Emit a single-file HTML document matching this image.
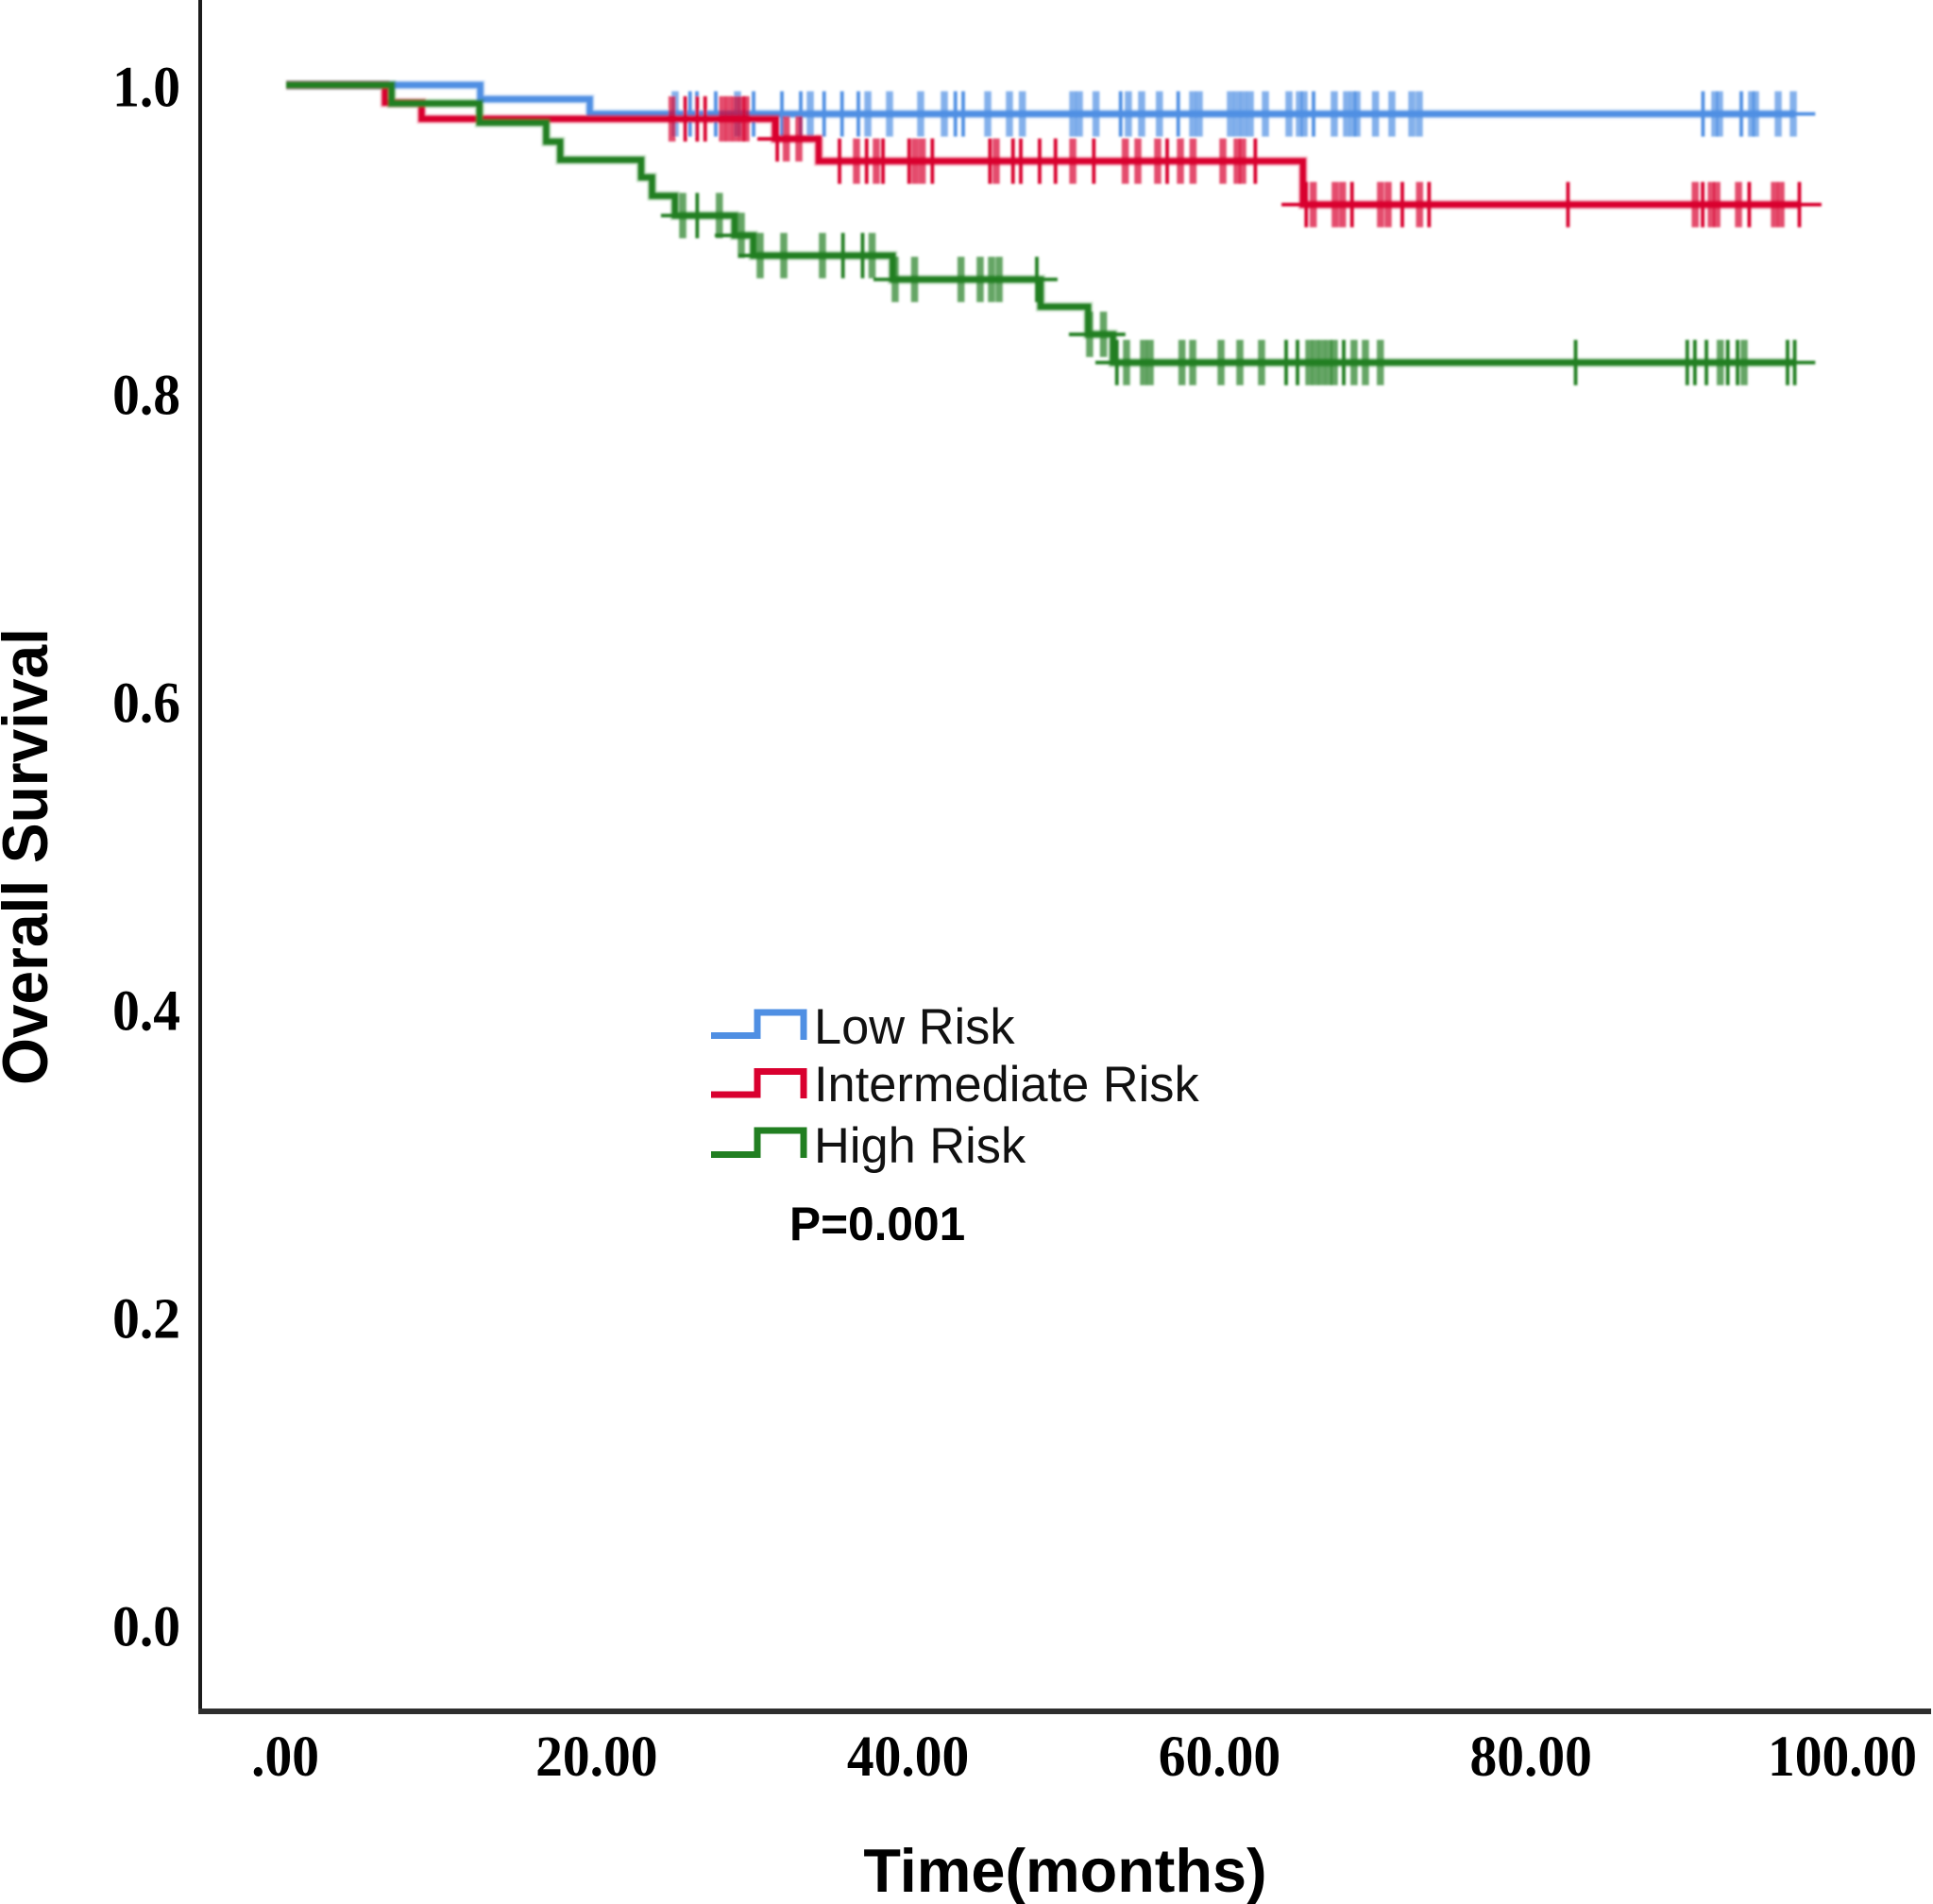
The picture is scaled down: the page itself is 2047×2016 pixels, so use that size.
<!DOCTYPE html>
<html lang="en">
<head>
<meta charset="utf-8">
<title>Overall Survival by Risk Group</title>
<style>
html,body{margin:0;padding:0;background:#fff;}
svg{display:block;}
.num{font-family:"Liberation Serif",serif;font-weight:bold;font-size:57.5px;fill:#000;}
.title{font-family:"Liberation Sans",sans-serif;font-weight:bold;fill:#000;}
.leg{font-family:"Liberation Sans",sans-serif;font-size:52.4px;fill:#111;}
</style>
</head>
<body>
<svg id="chart" xmlns="http://www.w3.org/2000/svg" width="2047" height="2016" viewBox="0 0 2047 2016">
  <defs><filter id="soft" x="-2%" y="-2%" width="104%" height="104%"><feGaussianBlur stdDeviation="1"/></filter></defs>
  <rect width="2047" height="2016" fill="#fff"/>
  <rect x="210" y="0" width="4" height="1814" fill="#1c1c1c"/>
  <rect x="210" y="1809" width="1835" height="6" fill="#2e2e2e"/>
  <g id="marks" filter="url(#soft)"></g>
  <g id="ticks"></g>
  <text class="title" font-size="64" text-anchor="middle" transform="translate(50 907) rotate(-90) scale(1 1.06)">Overall Survival</text>
  <text class="title" font-size="64.8" text-anchor="middle" x="1128" y="2003">Time(months)</text>
  <g>
    <g>
      <path d="M753 1096.5H802V1072H851V1101" fill="none" stroke="#4f8fe3" stroke-width="7"/>
      <text class="leg" x="862" y="1105">Low Risk</text>
    </g>
    <g>
      <path d="M753 1159H802V1134.5H851V1163" fill="none" stroke="#d9002f" stroke-width="7"/>
      <text class="leg" x="862" y="1166">Intermediate Risk</text>
    </g>
    <g>
      <path d="M753 1222.5H802V1197H851V1226" fill="none" stroke="#217f21" stroke-width="7"/>
      <text class="leg" x="862" y="1231">High Risk</text>
    </g>
  </g>
  <text class="title" font-size="49.6" x="836" y="1313">P=0.001</text>
</svg>
<script>
// Axis tick values and labels
const xTickValues = [0, 20, 40, 60, 80, 100];
const xTickLabels = [".00", "20.00", "40.00", "60.00", "80.00", "100.00"];
const yTickValues = [1, 0.8, 0.6, 0.4, 0.2, 0];
const yTickLabels = ["1.0", "0.8", "0.6", "0.4", "0.2", "0.0"];

// Low risk
const lowStepTimes = [0, 12.47, 19.5];
const lowStepSurvival = [1, 0.9908, 0.9812];
const lowCurveEnd = 96.9;
const lowCensorSingle = [25.94, 26.38, 27.59, 30.02, 31.84, 33.05, 34.55, 35.70, 36.75, 42.98, 43.48, 53.59, 57.29, 65.98, 90.99, 93.45];
const lowCensorCluster = [24.98, 28.99, 33.66, 37.36, 38.75, 40.75, 42.27, 45.06, 46.45, 47.28, 50.52, 50.94, 52.01, 54.09, 54.94, 56.08, 58.22, 58.64, 60.64, 61.07, 61.49, 61.92, 62.89, 64.40, 65.07, 65.37, 67.31, 68.10, 68.53, 68.77, 69.96, 71.01, 72.29, 72.77, 91.75, 92.05, 94.11, 94.36, 95.82, 96.79];
const lowStubStart = [96.9];
const lowStubEnd = [98.2];
const lowStubSurvival = [0.9812];

// Intermediate risk
const midStepTimes = [0, 6.35, 8.7, 31.4, 34.2, 65.3];
const midStepSurvival = [1, 0.9885, 0.978, 0.965, 0.9505, 0.9223];
const midCurveEnd = 97.3;
const midCensorSingle = [25.63, 26.40, 26.91, 31.54, 35.54, 37.28, 38.33, 40.01, 41.50, 45.20, 46.68, 47.18, 48.39, 49.41, 51.87, 56.58, 62.24, 65.51, 68.45, 71.68, 73.40, 82.32, 90.97, 93.96, 97.18];
const midCensorCluster = [24.78, 28.02, 28.44, 28.87, 29.29, 29.53, 32.12, 32.93, 36.63, 37.90, 40.39, 40.85, 45.60, 50.52, 53.89, 54.70, 55.97, 57.43, 58.24, 60.16, 61.07, 61.43, 65.96, 67.37, 67.84, 70.28, 70.77, 72.79, 90.49, 91.52, 91.88, 93.27, 95.58, 96.0];
const midStubStart = [30.26, 63.92, 97.3];
const midStubEnd = [31.4, 65.3, 98.6];
const midStubSurvival = [0.965, 0.9223, 0.9223];

// High risk
const highStepTimes = [0, 6.77, 12.42, 16.7, 17.6, 22.8, 23.5, 24.97, 28.8, 30.0, 38.95, 48.45, 51.5, 53.1];
const highStepSurvival = [1, 0.988, 0.9755, 0.9632, 0.9514, 0.94, 0.928, 0.9152, 0.9023, 0.8892, 0.8737, 0.856, 0.838, 0.8197];
const highCurveEnd = 97;
const highCensorSingle = [26.40, 35.76, 37.02, 48.21, 53.35, 64.22, 64.95, 67.92, 82.81, 89.98, 90.47, 91.21, 92.58, 93.21, 96.42, 96.88];
const highCensorCluster = [25.47, 27.82, 29.23, 30.44, 31.96, 34.44, 37.63, 39.11, 40.36, 43.34, 44.57, 45.30, 45.79, 51.60, 52.49, 53.97, 55.06, 55.49, 57.53, 58.22, 60.04, 61.25, 62.64, 65.68, 66.10, 66.52, 66.95, 67.31, 68.58, 69.31, 70.27, 92.10, 93.63];
const highStubStart = [24.07, 27.53, 29.05, 37.72, 48.33, 50.27, 53.1, 51.97, 97];
const highStubEnd = [24.97, 28.8, 30.0, 38.95, 49.54, 51.5, 53.9, 53.1, 98.2];
const highStubSurvival = [0.9152, 0.9023, 0.8892, 0.8737, 0.8737, 0.838, 0.838, 0.8197, 0.8197];

const SVG_NS = "http://www.w3.org/2000/svg";
const marks = document.getElementById("marks");
const tickGroup = document.getElementById("ticks");

function xScale(t) { return 303 + 16.49 * t; }
function yScale(v) { return 90 + 1630 * (1 - v); }

function survivalAt(times, survival, t) {
  let value = survival[0];
  for (let i = 0; i < times.length; i++) {
    if (times[i] <= t) value = survival[i];
  }
  return value;
}

function stepPath(times, survival, end) {
  let d = "M" + xScale(times[0]) + " " + yScale(survival[0]);
  for (let i = 1; i < times.length; i++) {
    d += "H" + xScale(times[i]) + "V" + yScale(survival[i]);
  }
  return d + "H" + xScale(end);
}

function drawSeries(key, color, times, survival, end, single, cluster, stubStart, stubEnd, stubSurvival) {
  const group = document.createElementNS(SVG_NS, "g");
  
  
  marks.appendChild(group);

  cluster.forEach(function (t) {
    const v = survivalAt(times, survival, t);
    const tick = document.createElementNS(SVG_NS, "line");
    
    
    tick.setAttribute("x1", xScale(t));
    tick.setAttribute("x2", xScale(t));
    tick.setAttribute("y1", yScale(v) - 24);
    tick.setAttribute("y2", yScale(v) + 24);
    tick.setAttribute("stroke", color);
    tick.setAttribute("stroke-width", 7.5);
    tick.setAttribute("stroke-opacity", 0.7);
    group.appendChild(tick);
  });

  single.forEach(function (t) {
    const v = survivalAt(times, survival, t);
    const tick = document.createElementNS(SVG_NS, "line");
    
    
    tick.setAttribute("x1", xScale(t));
    tick.setAttribute("x2", xScale(t));
    tick.setAttribute("y1", yScale(v) - 24);
    tick.setAttribute("y2", yScale(v) + 24);
    tick.setAttribute("stroke", color);
    tick.setAttribute("stroke-width", 3.8);
    group.appendChild(tick);
  });

  stubStart.forEach(function (t, i) {
    const stub = document.createElementNS(SVG_NS, "line");
    
    
    stub.setAttribute("x1", xScale(t));
    stub.setAttribute("x2", xScale(stubEnd[i]));
    stub.setAttribute("y1", yScale(stubSurvival[i]));
    stub.setAttribute("y2", yScale(stubSurvival[i]));
    stub.setAttribute("stroke", color);
    stub.setAttribute("stroke-width", 3.8);
    group.appendChild(stub);
  });

  const halo = document.createElementNS(SVG_NS, "path");
  
  
  halo.setAttribute("d", stepPath(times, survival, end));
  halo.setAttribute("fill", "none");
  halo.setAttribute("stroke", color);
  halo.setAttribute("stroke-width", 10);
  halo.setAttribute("stroke-opacity", 0.28);
  group.appendChild(halo);

  const curve = document.createElementNS(SVG_NS, "path");
  
  
  curve.setAttribute("d", stepPath(times, survival, end));
  curve.setAttribute("fill", "none");
  curve.setAttribute("stroke", color);
  curve.setAttribute("stroke-width", 6.5);
  group.appendChild(curve);
}

drawSeries("low-risk", "#4f8fe3", lowStepTimes, lowStepSurvival, lowCurveEnd, lowCensorSingle, lowCensorCluster, lowStubStart, lowStubEnd, lowStubSurvival);
drawSeries("intermediate-risk", "#d9002f", midStepTimes, midStepSurvival, midCurveEnd, midCensorSingle, midCensorCluster, midStubStart, midStubEnd, midStubSurvival);
drawSeries("high-risk", "#217f21", highStepTimes, highStepSurvival, highCurveEnd, highCensorSingle, highCensorCluster, highStubStart, highStubEnd, highStubSurvival);

xTickValues.forEach(function (value, i) {
  const label = document.createElementNS(SVG_NS, "text");
  
  
  label.setAttribute("class", "num");
  label.setAttribute("text-anchor", "middle");
  label.setAttribute("transform", "translate(" + (xScale(value) - 1) + " 1880) scale(1 1.07)");
  label.textContent = xTickLabels[i];
  tickGroup.appendChild(label);
});

yTickValues.forEach(function (value, i) {
  const label = document.createElementNS(SVG_NS, "text");
  
  
  label.setAttribute("class", "num");
  label.setAttribute("text-anchor", "end");
  label.setAttribute("transform", "translate(191 " + (yScale(value) + 22.5) + ") scale(1 1.07)");
  label.textContent = yTickLabels[i];
  tickGroup.appendChild(label);
});
</script>
</body>
</html>
